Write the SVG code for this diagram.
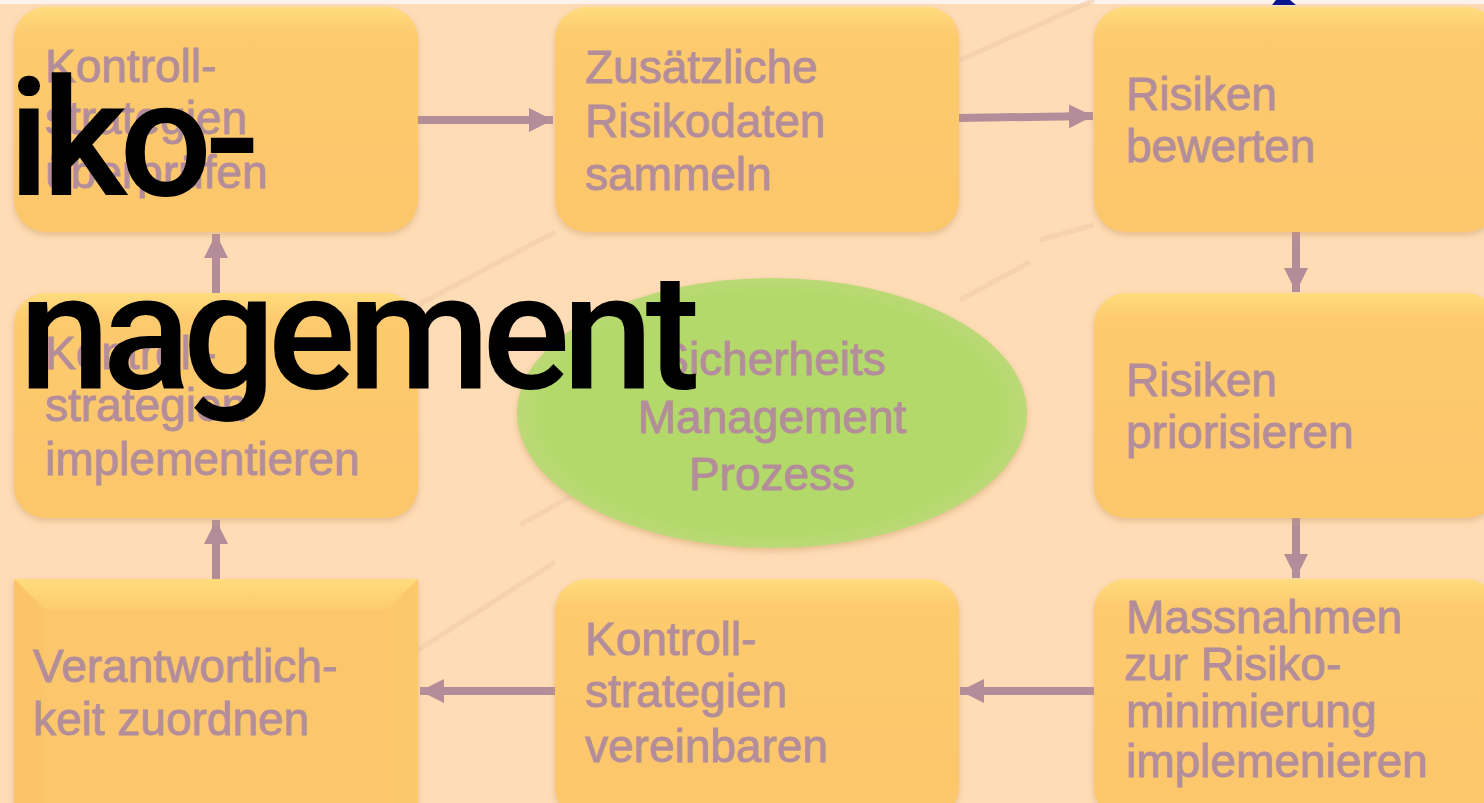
<svg xmlns="http://www.w3.org/2000/svg" width="1484" height="803" viewBox="0 0 1484 803">
<style>
.lbl{font-family:"Liberation Sans",Arial,sans-serif;font-size:46px;fill:#b38e9a;stroke:#b38e9a;stroke-width:0.9px}
.title{font-family:Roboto,"Liberation Sans",sans-serif;font-weight:500;font-size:164px;fill:#000;letter-spacing:-8px}
.conn{stroke:#b38e9a;stroke-width:8;fill:none;marker-end:url(#ah)}
.box{fill:url(#boxg);filter:url(#sh)}
.deco{stroke:#f0cda8;stroke-width:5;fill:none;opacity:0.6}
</style>
<defs>
<linearGradient id="boxg" x1="0" y1="0" x2="0" y2="1">
<stop offset="0" stop-color="#ffdc7e"/>
<stop offset="0.12" stop-color="#fdca6e"/>
<stop offset="1" stop-color="#fcc66b"/>
</linearGradient>
<linearGradient id="bevt" x1="0" y1="0" x2="0" y2="1">
<stop offset="0" stop-color="#ffdb7c"/>
<stop offset="1" stop-color="#fdcc6f"/>
</linearGradient>
<radialGradient id="ellg" cx="0.5" cy="0.5" r="0.5">
<stop offset="0" stop-color="#b3d96b"/>
<stop offset="0.9" stop-color="#b3d96b"/>
<stop offset="1" stop-color="#bcd977"/>
</radialGradient>
<filter id="sh" x="-10%" y="-10%" width="120%" height="125%">
<feDropShadow dx="0" dy="3" stdDeviation="3" flood-color="#c9955e" flood-opacity="0.45"/>
</filter>
<marker id="ah" markerUnits="userSpaceOnUse" markerWidth="26" markerHeight="26" viewBox="0 0 26 26" refX="24" refY="13" orient="auto">
<path d="M0,1 L24,13 L0,25 Z" fill="#b38e9a"/>
</marker>
</defs>
<rect x="0" y="0" width="1484" height="803" fill="#fedcb6"/>
<rect x="0" y="0" width="1484" height="4" fill="#fbf3ec"/>
<g id="background-lines">
<path class="deco" d="M418,305 L555,232"/>
<path class="deco" d="M960,60 L1094,0"/>
<path class="deco" d="M418,650 L555,562"/>
<path class="deco" d="M520,525 L600,480"/>
<path class="deco" d="M960,300 L1030,262"/>
<path class="deco" d="M1040,240 L1094,225"/>
</g>
<polygon points="1272,5 1276,0 1290,0 1296,5" fill="#0a1490"/>
<g id="connectors">
<line class="conn" x1="418" y1="120" x2="553" y2="120"/>
<line class="conn" x1="958" y1="118" x2="1093" y2="116"/>
<line class="conn" x1="1296" y1="232" x2="1296" y2="292"/>
<line class="conn" x1="1296" y1="518" x2="1296" y2="578"/>
<line class="conn" x1="1094" y1="691" x2="960" y2="691"/>
<line class="conn" x1="555" y1="691" x2="420" y2="691"/>
<line class="conn" x1="216" y1="579" x2="216" y2="520"/>
<line class="conn" x1="216" y1="293" x2="216" y2="234"/>
</g>
<g id="n1">
<rect class="box" x="14" y="7" width="404" height="225" rx="32"/>
<text class="lbl"><tspan x="45" y="82">Kontroll-</tspan><tspan x="45" y="134">strategien</tspan><tspan x="45" y="188">überprüfen</tspan></text>
</g>
<g id="n2">
<rect class="box" x="555" y="7" width="404" height="225" rx="32"/>
<text class="lbl"><tspan x="585" y="83">Zusätzliche</tspan><tspan x="585" y="137">Risikodaten</tspan><tspan x="585" y="190">sammeln</tspan></text>
</g>
<g id="n3">
<rect class="box" x="1094" y="7" width="404" height="225" rx="32"/>
<text class="lbl"><tspan x="1126" y="110">Risiken</tspan><tspan x="1126" y="162">bewerten</tspan></text>
</g>
<g id="n4">
<rect class="box" x="14" y="293" width="404" height="225" rx="32"/>
<text class="lbl"><tspan x="45" y="369">Kontroll-</tspan><tspan x="45" y="421">strategien</tspan><tspan x="45" y="475">implementieren</tspan></text>
</g>
<g id="center">
<ellipse cx="772" cy="413" rx="255" ry="135" fill="url(#ellg)" filter="url(#sh)"/>
<text class="lbl" text-anchor="middle"><tspan x="772" y="375">Sicherheits</tspan><tspan x="772" y="433">Management</tspan><tspan x="772" y="490">Prozess</tspan></text>
</g>
<g id="n5">
<rect class="box" x="1094" y="293" width="404" height="225" rx="32"/>
<text class="lbl"><tspan x="1126" y="396">Risiken</tspan><tspan x="1126" y="448">priorisieren</tspan></text>
</g>
<g id="n6">
<rect x="14" y="579" width="404" height="230" fill="#fcc66b" filter="url(#sh)"/>
<polygon points="14,579 418,579 388,609 44,609" fill="url(#bevt)"/>
<polygon points="14,579 44,609 44,803 14,803" fill="#fbc468"/>
<polygon points="418,579 388,609 388,803 418,803" fill="#fcc86c"/>
<rect x="44" y="609" width="344" height="200" fill="#fcc76c"/>
<text class="lbl"><tspan x="33" y="682">Verantwortlich-</tspan><tspan x="33" y="735">keit zuordnen</tspan></text>
</g>
<g id="n7">
<rect class="box" x="555" y="579" width="404" height="240" rx="32"/>
<text class="lbl"><tspan x="585" y="655">Kontroll-</tspan><tspan x="585" y="707">strategien</tspan><tspan x="585" y="762">vereinbaren</tspan></text>
</g>
<g id="n8">
<rect class="box" x="1094" y="579" width="404" height="240" rx="32"/>
<text class="lbl"><tspan x="1126" y="633">Massnahmen</tspan><tspan x="1124" y="680">zur Risiko-</tspan><tspan x="1126" y="727">minimierung</tspan><tspan x="1126" y="777">implemenieren</tspan></text>
</g>
<g id="title">
<text class="title" x="8" y="195">iko-</text>
<text class="title" x="19" y="388">nagement</text>
</g>
</svg>
